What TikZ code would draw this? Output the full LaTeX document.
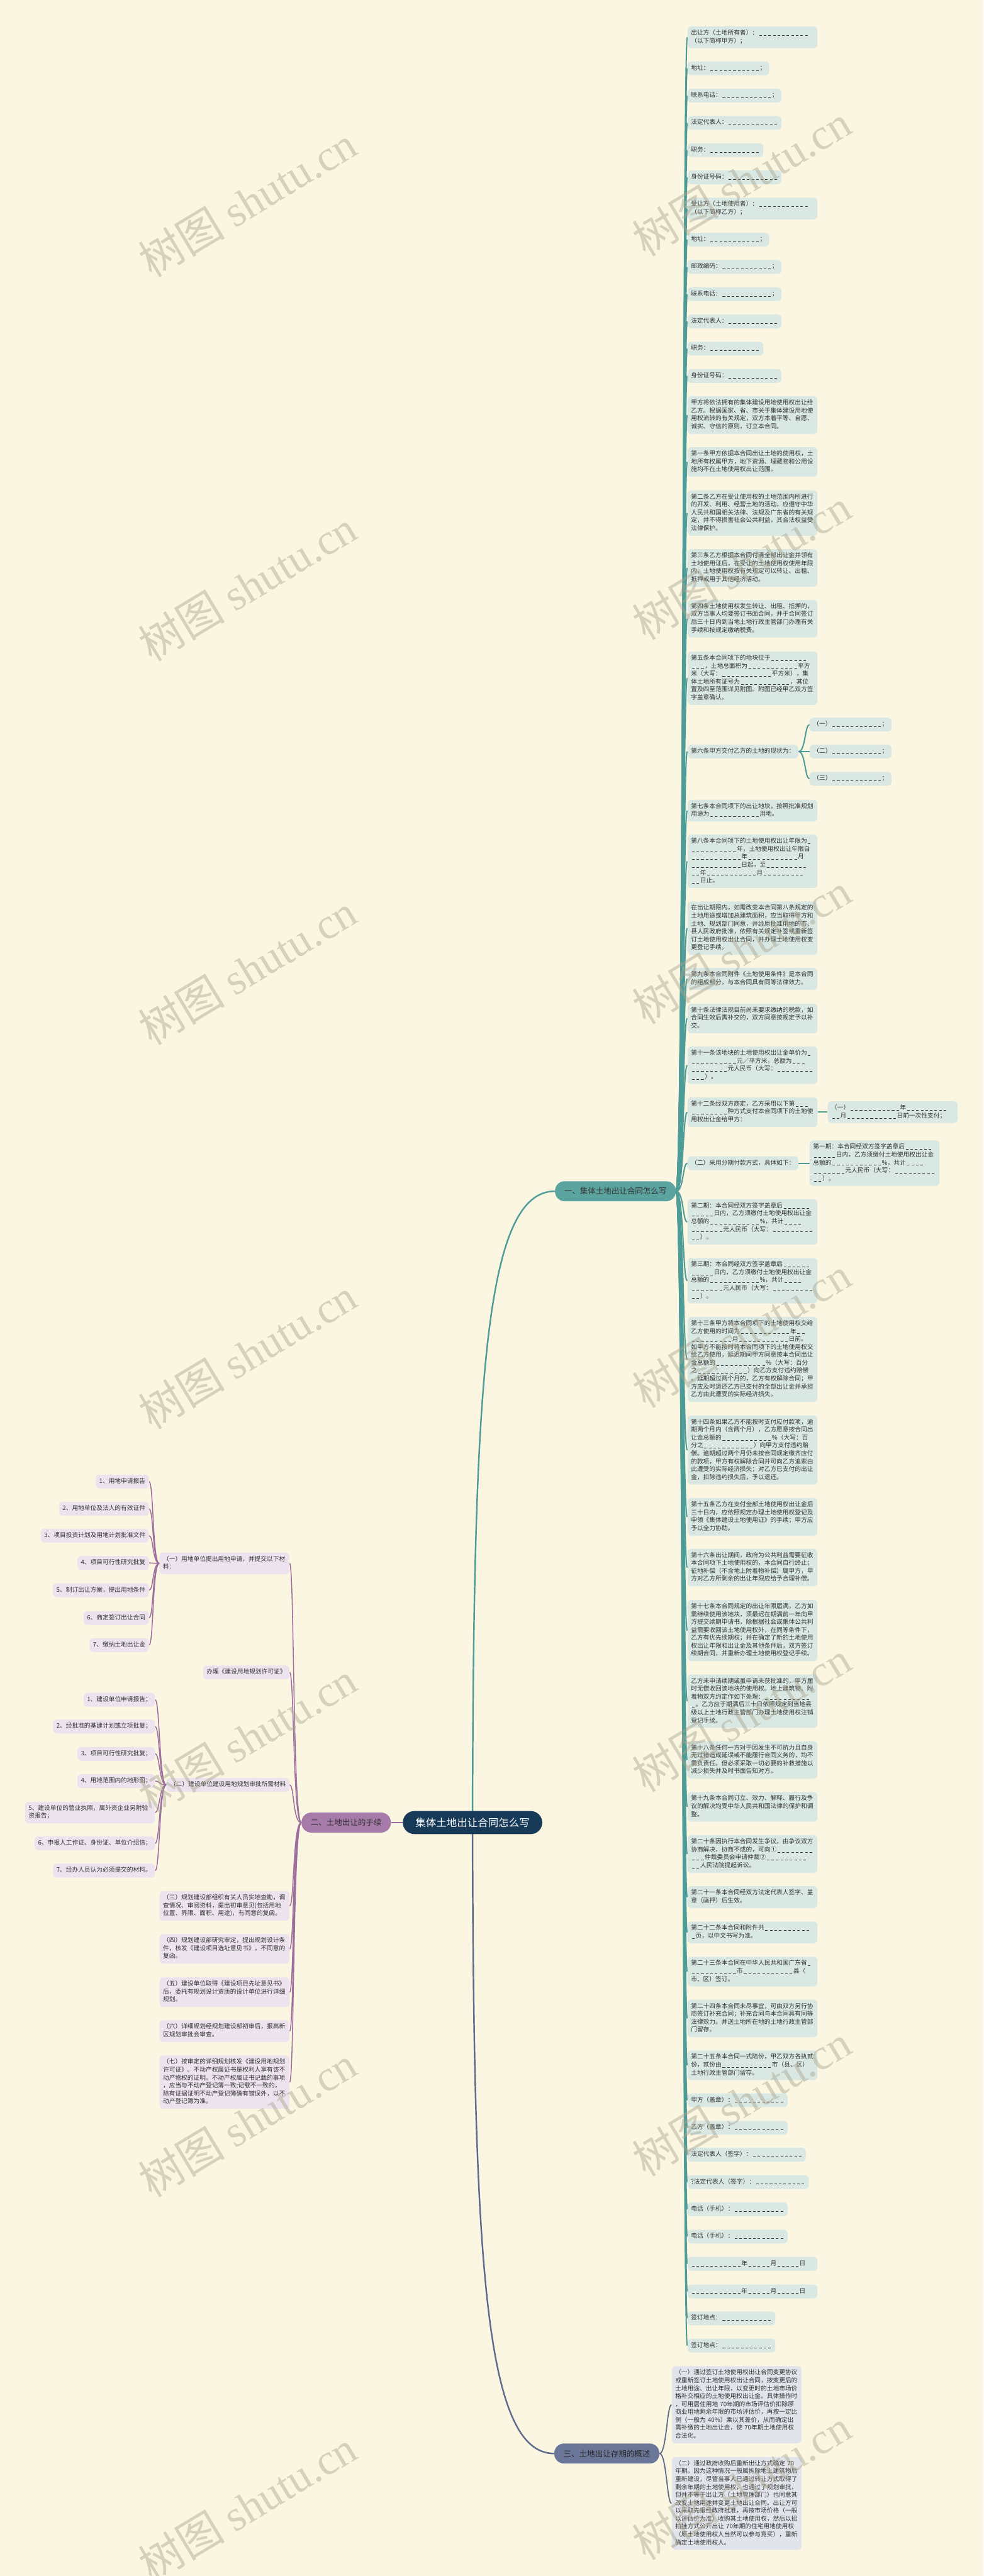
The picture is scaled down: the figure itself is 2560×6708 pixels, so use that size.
\documentclass[tikz,border=0pt]{standalone}
\usepackage{fontspec}
\setmainfont{Noto Sans CJK SC}
\newfontfamily\wmserif{Liberation Serif}
\usetikzlibrary{calc}
\definecolor{bgc}{HTML}{FBF6E1}
\definecolor{cR}{HTML}{DAE8E4}
\definecolor{lnR}{HTML}{4E9C98}
\definecolor{nR}{HTML}{5AA39F}
\definecolor{cL}{HTML}{ECE3EE}
\definecolor{lnL}{HTML}{9C6E9E}
\definecolor{nL}{HTML}{A67BA9}
\definecolor{cT}{HTML}{E1E4EB}
\definecolor{lnT}{HTML}{5F6B8C}
\definecolor{nT}{HTML}{6A7799}
\definecolor{navy}{HTML}{163A57}
\definecolor{txt}{HTML}{333333}
\definecolor{wmc}{HTML}{A9A58F}
\pgfdeclarelayer{back}\pgfdeclarelayer{lines}\pgfdeclarelayer{front}
\pgfsetlayers{back,lines,main,front}
\newcount\dashcnt
\newcommand\bbd{\hbox to 0.75em{\hss\rule[-0.1em]{0.42em}{0.06em}\hss}}
\newcommand\bb[1]{\leavevmode\dashcnt=#1\relax\loop\ifnum\dashcnt>0 \bbd\advance\dashcnt by -1\repeat}
\newcommand\lfnt{\fontsize{4.77pt}{6.18pt}\selectfont}
\newcommand\brfnt{\fontsize{6.15pt}{7.5pt}\selectfont}
\newcommand\cfnt{\fontsize{8.1pt}{9.5pt}\selectfont}
\newcommand\wmfnt{\fontsize{34pt}{36pt}\selectfont}
\tikzset{
 lf/.style={font=\lfnt, text=txt, inner xsep=2.7pt, inner ysep=2.31pt, rounded corners=3pt, align=left, execute at begin node=\strut, execute at end node=\strut},
 rl/.style={lf, fill=cR, anchor=west},
 rp/.style={rl, text width=96pt},
 ll/.style={lf, fill=cL, anchor=east},
 lp/.style={ll, text width=96pt},
 tl/.style={lf, fill=cT, anchor=west, text width=96pt},
 br/.style={font=\brfnt, rounded corners=7.5pt, inner xsep=7.2pt, inner ysep=0pt, minimum height=15.6pt},
 lR/.style={draw=lnR, line width=1pt},
 lL/.style={draw=lnL, line width=0.75pt},
 lT/.style={draw=lnT, line width=0.9pt},
 wm/.style={font=\wmfnt, text=wmc, text opacity=0.45, rotate=31},
}
\begin{document}
\begin{tikzpicture}[x=0.3pt,y=-0.3pt]
\useasboundingbox (0,0) rectangle (2560,6708);
\begin{pgfonlayer}{back}
\fill[bgc] (0,0) rectangle (2560,6708);
\end{pgfonlayer}
% central and branch nodes
\node[fill=navy, text=white, font=\cfnt, rounded corners=9pt, minimum height=18pt, inner xsep=9.9pt, inner ysep=0pt] (c) at (1230,4746) {集体土地出让合同怎么写};
\node[br, fill=nR, text=txt, anchor=west] (b1) at (1444,3102) {一、集体土地出让合同怎么写};
\node[br, fill=nL, text=txt, anchor=east] (b2) at (1018,4746) {二、土地出让的手续};
\node[br, fill=nT, text=black!85, anchor=east] (b3) at (1717,6389) {三、土地出让存期的概述};
% right column
\node[rp] (R1) at (1789,97) {出让方（土地所有者）：\bb{11}\\（以下简称甲方）；};
\node[rl] (R2) at (1789,178) {地址：\bb{11}；};
\node[rl] (R3) at (1789,249) {联系电话：\bb{11}；};
\node[rl] (R4) at (1789,320) {法定代表人：\bb{11}};
\node[rl] (R5) at (1789,391) {职务：\bb{11}};
\node[rl] (R6) at (1789,462) {身份证号码：\bb{11}};
\node[rp] (R7) at (1789,543) {受让方（土地使用者）：\bb{11}\\（以下简称乙方）；};
\node[rl] (R8) at (1789,624) {地址：\bb{11}；};
\node[rl] (R9) at (1789,695) {邮政编码：\bb{11}；};
\node[rl] (R10) at (1789,766) {联系电话：\bb{11}；};
\node[rl] (R11) at (1789,837) {法定代表人：\bb{11}};
\node[rl] (R12) at (1789,908) {职务：\bb{11}};
\node[rl] (R13) at (1789,979) {身份证号码：\bb{11}};
\node[rp] (R14) at (1789,1081) {甲方将依法拥有的集体建设用地使用权出让给\\乙方。根据国家、省、市关于集体建设用地使\\用权流转的有关规定，双方本着平等、自愿、\\诚实、守信的原则，订立本合同。};
\node[rp] (R15) at (1789,1203) {第一条甲方依据本合同出让土地的使用权，土\\地所有权属甲方，地下资源、埋藏物和公用设\\施均不在土地使用权出让范围。};
\node[rp] (R16) at (1789,1336) {第二条乙方在受让使用权的土地范围内所进行\\的开发、利用、经营土地的活动，应遵守中华\\人民共和国相关法律、法规及广东省的有关规\\定，并不得损害社会公共利益，其合法权益受\\法律保护。};
\node[rp] (R17) at (1789,1479) {第三条乙方根据本合同付清全部出让金并领有\\土地使用证后，在受让的土地使用权使用年限\\内，土地使用权按有关规定可以转让、出租、\\抵押或用于其他经济活动。};
\node[rp] (R18) at (1789,1611) {第四条土地使用权发生转让、出租、抵押的，\\双方当事人均要签订书面合同，并于合同签订\\后三十日内到当地土地行政主管部门办理有关\\手续和按规定缴纳税费。};
\node[rp] (R19) at (1789,1766) {第五条本合同项下的地块位于\bb{8}\\\bb{3}，土地总面积为\bb{11}平方\\米（大写：\bb{11}平方米），集\\体土地所有证号为\bb{11}，其位\\置及四至范围详见附图。附图已经甲乙双方签\\字盖章确认。};
\node[rl] (R20) at (1789,1957) {第六条甲方交付乙方的土地的现状为：};
\node[rl] (R20a) at (2107,1887) {（一）\bb{11}；};
\node[rl] (R20b) at (2107,1957) {（二）\bb{11}；};
\node[rl] (R20c) at (2107,2028) {（三）\bb{11}；};
\node[rp] (R21) at (1789,2111) {第七条本合同项下的出让地块，按照批准规划\\用途为\bb{11}用地。};
\node[rp] (R22) at (1789,2243) {第八条本合同项下的土地使用权出让年限为\bb{1}\\\bb{10}年，土地使用权出让年限自\\\bb{11}年\bb{11}月\\\bb{11}日起，至\bb{9}\\\bb{2}年\bb{11}月\bb{9}\\\bb{2}日止。};
\node[rp] (R23) at (1789,2417) {在出让期限内，如需改变本合同第八条规定的\\土地用途或增加总建筑面积，应当取得甲方和\\土地、规划部门同意，并经原批准用地的市、\\县人民政府批准，依照有关规定补签或重新签\\订土地使用权出让合同，并办理土地使用权变\\更登记手续。};
\node[rp] (R24) at (1789,2549) {第九条本合同附件《土地使用条件》是本合同\\的组成部分，与本合同具有同等法律效力。};
\node[rp] (R25) at (1789,2652) {第十条法律法规目前尚未要求缴纳的税款，如\\合同生效后需补交的，双方同意按规定予以补\\交。};
\node[rp] (R26) at (1789,2774) {第十一条该地块的土地使用权出让金单价为\bb{1}\\\bb{10}元／平方米，总额为\bb{3}\\\bb{8}元人民币（大写：\bb{8}\\\bb{3}）。};
\node[rp] (R27) at (1789,2896) {第十二条经双方商定，乙方采用以下第\bb{3}\\\bb{8}种方式支付本合同项下的土地使\\用权出让金给甲方：};
\node[rp] (R27a) at (2154,2896) {（一）\bb{11}年\bb{9}\\\bb{2}月\bb{11}日前一次性支付；};
\node[rl] (R28) at (1789,3029) {（二）采用分期付款方式，具体如下：};
\node[rp] (R28a) at (2107,3029) {第一期：本合同经双方签字盖章后\bb{6}\\\bb{5}日内，乙方须缴付土地使用权出让金\\总额的\bb{11}\%，共计\bb{4}\\\bb{7}元人民币（大写：\bb{9}\\\bb{2}）。};
\node[rp] (R29) at (1789,3182) {第二期：本合同经双方签字盖章后\bb{6}\\\bb{5}日内，乙方须缴付土地使用权出让金\\总额的\bb{11}\%，共计\bb{4}\\\bb{7}元人民币（大写：\bb{9}\\\bb{2}）。};
\node[rp] (R30) at (1789,3335) {第三期：本合同经双方签字盖章后\bb{6}\\\bb{5}日内，乙方须缴付土地使用权出让金\\总额的\bb{11}\%，共计\bb{4}\\\bb{7}元人民币（大写：\bb{9}\\\bb{2}）。};
\node[rp] (R31) at (1789,3540) {第十三条甲方将本合同项下的土地使用权交给\\乙方使用的时间为\bb{11}年\bb{2}\\\bb{9}月\bb{11}日前。\\如甲方不能按时将本合同项下的土地使用权交\\给乙方使用，延迟期间甲方同意按本合同出让\\金总额的\bb{11}\%（大写：百分\\之\bb{11}）向乙方支付违约赔偿\\。延期超过两个月的，乙方有权解除合同；甲\\方应及时退还乙方已支付的全部出让金并承担\\乙方由此遭受的实际经济损失。};
\node[rp] (R32) at (1789,3776) {第十四条如果乙方不能按时支付应付款项，逾\\期两个月内（含两个月），乙方愿意按合同出\\让金总额的\bb{11}\%（大写：百\\分之\bb{11}）向甲方支付违约赔\\偿。逾期超过两个月仍未按合同规定缴齐应付\\的款项，甲方有权解除合同并可向乙方追索由\\此遭受的实际经济损失；对乙方已支付的出让\\金，扣除违约损失后，予以退还。};
\node[rp] (R33) at (1789,3950) {第十五条乙方在支付全部土地使用权出让金后\\三十日内，应依照规定办理土地使用权登记及\\申领《集体建设土地使用证》的手续；甲方应\\予以全力协助。};
\node[rp] (R34) at (1789,4082) {第十六条出让期间，政府为公共利益需要征收\\本合同项下土地使用权的，本合同自行终止；\\征地补偿（不含地上附着物补偿）属甲方，甲\\方对乙方所剩余的出让年限应给予合理补偿。};
\node[rp] (R35) at (1789,4246) {第十七条本合同规定的出让年限届满，乙方如\\需继续使用该地块，须最迟在期满前一年向甲\\方提交续期申请书，除根据社会或集体公共利\\益需要收回该土地使用权外，在同等条件下，\\乙方有优先续期权；并在确定了新的土地使用\\权出让年限和出让金及其他条件后，双方签订\\续期合同，并重新办理土地使用权登记手续。};
\node[rp] (R36) at (1789,4430) {乙方未申请续期或虽申请未获批准的，甲方届\\时无偿收回该地块的使用权。地上建筑物、附\\着物双方约定作如下处理：\bb{10}\\\bb{1}。乙方应于期满后三十日依照规定到当地县\\级以上土地行政主管部门办理土地使用权注销\\登记手续。};
\node[rp] (R37) at (1789,4583) {第十八条任何一方对于因发生不可抗力且自身\\无过错造成延误或不能履行合同义务的，均不\\需负责任。但必须采取一切必要的补救措施以\\减少损失并及时书面告知对方。};
\node[rp] (R38) at (1789,4705) {第十九条本合同订立、效力、解释、履行及争\\议的解决均受中华人民共和国法律的保护和调\\整。};
\node[rp] (R39) at (1789,4828) {第二十条因执行本合同发生争议，由争议双方\\协商解决，协商不成的，可向①\bb{8}\\\bb{3}仲裁委员会申请仲裁②\bb{9}\\\bb{2}人民法院提起诉讼。};
\node[rp] (R40) at (1789,4940) {第二十一条本合同经双方法定代表人签字、盖\\章（画押）后生效。};
\node[rp] (R41) at (1789,5032) {第二十二条本合同和附件共\bb{10}\\\bb{1}页，以中文书写为准。};
\node[rp] (R42) at (1789,5134) {第二十三条本合同在中华人民共和国广东省\bb{1}\\\bb{10}市\bb{11}县（\\市、区）签订。};
\node[rp] (R43) at (1789,5256) {第二十四条本合同未尽事宜，可由双方另行协\\商签订补充合同；补充合同与本合同具有同等\\法律效力。并送土地所在地的土地行政主管部\\门留存。};
\node[rp] (R44) at (1789,5378) {第二十五条本合同一式陆份，甲乙双方各执贰\\份，贰份由\bb{11}市（县、区）\\土地行政主管部门留存。};
\node[rl] (R45) at (1789,5469) {甲方（盖章）：\bb{11}};
\node[rl] (R46) at (1789,5541) {乙方（盖章）：\bb{11}};
\node[rl] (R47) at (1789,5611) {法定代表人（签字）：\bb{11}};
\node[rl] (R48) at (1789,5682) {?法定代表人（签字）：\bb{11}};
\node[rl] (R49) at (1789,5753) {电话（手机）：\bb{11}};
\node[rl] (R50) at (1789,5824) {电话（手机）：\bb{11}};
\node[rp] (R51) at (1789,5895) {\bb{11}年\bb{5}月\bb{5}日};
\node[rp] (R52) at (1789,5967) {\bb{11}年\bb{5}月\bb{5}日};
\node[rl] (R53) at (1789,6037) {签订地点：\bb{11}};
\node[rl] (R54) at (1789,6108) {签订地点：\bb{11}};
% branch 3 children
\node[tl] (T1) at (1748,6262) {（一）通过签订土地使用权出让合同变更协议\\或重新签订土地使用权出让合同，按变更后的\\土地用途、出让年限，以变更时的土地市场价\\格补交相应的土地使用权出让金。具体操作时\\，可用居住用地~70年期的市场评估价扣除原\\商业用地剩余年限的市场评估价，再按一定比\\例（一般为~40\%）乘以其差价，从而确定出\\需补缴的土地出让金，使~70年期土地使用权\\合法化。};
\node[tl] (T2) at (1748,6519) {（二）通过政府收购后重新出让方式确定~70\\年期。因为这种情况一般属拆除地上建筑物后\\重新建设，尽管当事人已通过转让方式取得了\\剩余年期的土地使用权，也通过了规划审批，\\但并不等于出让方（土地管理部门）也同意其\\改变土地用途并变更土地出让合同。出让方可\\以采取先报经政府批准，再按市场价格（一般\\以评估价为准）收购其土地使用权，然后以招\\拍挂方式公开出让~70年期的住宅用地使用权\\（原土地使用权人当然可以参与竞买），重新\\确定土地使用权人。};
% left side
\node[lp] (A1) at (754,4071) {（一）用地单位提出用地申请，并提交以下材\\料：};
\node[ll] (L1) at (388,3858) {1、用地申请报告};
\node[ll] (L2) at (388,3929) {2、用地单位及法人的有效证件};
\node[ll] (L3) at (388,3999) {3、项目投资计划及用地计划批准文件};
\node[ll] (L4) at (388,4070) {4、项目可行性研究批复};
\node[ll] (L5) at (388,4141) {5、制订出让方案，提出用地条件};
\node[ll] (L6) at (388,4213) {6、商定签订出让合同};
\node[ll] (L7) at (388,4284) {7、缴纳土地出让金};
\node[ll] (A2) at (754,4355) {办理《建设用地规划许可证》};
\node[ll] (A3) at (754,4648) {（二）建设单位建设用地规划审批所需材料};
\node[ll] (M1) at (404,4426) {1、建设单位申请报告；};
\node[ll] (M2) at (404,4496) {2、经批准的基建计划或立项批复；};
\node[ll] (M3) at (404,4567) {3、项目可行性研究批复；};
\node[ll] (M4) at (404,4638) {4、用地范围内的地形图；};
\node[lp] (M5) at (404,4720) {5、建设单位的营业执照，属外资企业另附验\\资报告；};
\node[ll] (M6) at (404,4800) {6、申报人工作证、身份证、单位介绍信；};
\node[ll] (M7) at (404,4871) {7、经办人员认为必须提交的材料。};
\node[lp] (A4) at (754,4963) {（三）规划建设部组织有关人员实地查勘，调\\查情况、审阅资料，提出初审意见(包括用地\\位置、界限、面积、用途)，有同意的复函。};
\node[lp] (A5) at (754,5075) {（四）规划建设部研究审定，提出规划设计条\\件，核发《建设项目选址意见书》，不同意的\\复函。};
\node[lp] (A6) at (754,5188) {（五）建设单位取得《建设项目先址意见书》\\后，委托有规划设计资质的设计单位进行详细\\规划。};
\node[lp] (A7) at (754,5289) {（六）详细规划经规划建设部初审后，报高新\\区规划审批会审查。};
\node[lp] (A8) at (754,5422) {（七）按审定的详细规划核发《建设用地规划\\许可证》。不动产权属证书是权利人享有该不\\动产物权的证明。不动产权属证书记载的事项\\，应当与不动产登记簿一致;记载不一致的，\\除有证据证明不动产登记簿确有错误外，以不\\动产登记簿为准。};
% connectors
\begin{pgfonlayer}{lines}
\draw[lR, line width=1.2pt] (c.center) .. controls (1232,3600) and (1262,3102) .. (b1.west);
\draw[lT, line width=1.2pt] (c.center) .. controls (1232,5892) and (1262,6389) .. (b3.west);
\draw[lL, line width=1pt] (c.west) -- (b2.east);
\foreach \i in {1,...,54} \draw[lR] (b1.east) .. controls +(20,0) and +(-12,0) .. (R\i.west);
\draw[lR] (R20.east) .. controls +(18,0) and +(-12,0) .. (R20a.west);
\draw[lR] (R20.east) -- (R20b.west);
\draw[lR] (R20.east) .. controls +(18,0) and +(-12,0) .. (R20c.west);
\draw[lR] (R27.east) -- (R27a.west);
\draw[lR] (R28.east) -- (R28a.west);
\foreach \i in {1,...,7} \draw[lL] (A1.west) .. controls +(-18,0) and +(12,0) .. (L\i.east);
\foreach \i in {1,...,7} \draw[lL] (A3.west) .. controls +(-18,0) and +(12,0) .. (M\i.east);
\foreach \n in {A1,A2,A3,A4,A5,A6,A7,A8} \draw[lL] (b2.west) .. controls +(-22,0) and +(12,0) .. (\n.east);
\draw[lT] (b3.east) .. controls +(18,0) and +(-12,0) .. (T1.west);
\draw[lT] (b3.east) .. controls +(18,0) and +(-12,0) .. (T2.west);
\end{pgfonlayer}
% watermarks
\begin{pgfonlayer}{front}
\foreach \wy in {470,1470,2470,3470,4470,5470,6470} \node[wm] at (1930,\wy) {树图 {\wmserif shutu.cn}};
\foreach \wy in {525,1525,2525,3525,4525,5525,6525} \node[wm] at (644,\wy) {树图 {\wmserif shutu.cn}};
\end{pgfonlayer}
\end{tikzpicture}
\end{document}
